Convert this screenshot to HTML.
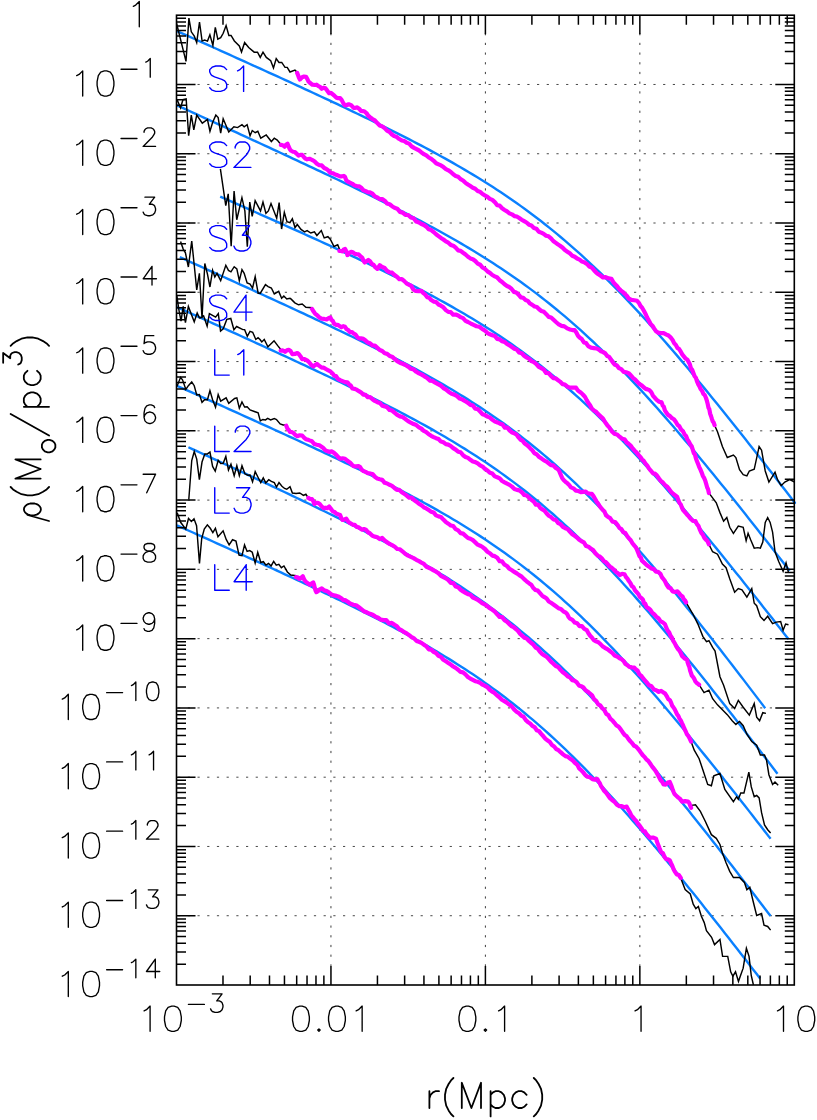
<!DOCTYPE html>
<html><head><meta charset="utf-8"><title>Density profiles</title>
<style>html,body{margin:0;padding:0;background:#fff;font-family:"Liberation Sans",sans-serif}svg{display:block}</style></head>
<body><svg width="817" height="1120" viewBox="0 0 817 1120">
<rect width="817" height="1120" fill="#fff"/>
<defs><clipPath id="c"><rect x="175.5" y="14.2" width="620.8" height="971.4"/></clipPath></defs>
<path d="M178.1 84.47H775.3M178.1 153.74H775.3M178.1 223.01H775.3M178.1 292.29H775.3M178.1 361.56H775.3M178.1 430.83H775.3M178.1 500.1H775.3M178.1 569.37H775.3M178.1 638.64H775.3M178.1 707.91H775.3M178.1 777.19H775.3M178.1 846.46H775.3M178.1 915.73H775.3" fill="none" stroke="#333" stroke-width="0.9" stroke-dasharray="2.2 7.5"/>
<path d="M330.95 33.1V966M485.4 33.1V966M639.85 33.1V966" fill="none" stroke="#333" stroke-width="0.95" stroke-dasharray="2.2 7.5"/>
<g fill="none" stroke-linejoin="round" stroke-linecap="round" clip-path="url(#c)">
<path d="M176.9 31.04L180.9 32.83L184.9 34.63L188.9 36.42L192.9 38.22L196.9 40.02L200.9 41.82L204.9 43.62L208.9 45.42L212.9 47.22L216.9 49.02L220.9 50.82L224.9 52.62L228.9 54.43L232.9 56.24L236.9 58.04L240.9 59.85L244.9 61.66L248.9 63.47L252.9 65.29L256.9 67.1L260.9 68.92L264.9 70.74L268.9 72.56L272.9 74.38L276.9 76.2L280.9 78.03L284.9 79.86L288.9 81.69L292.9 83.53L296.9 85.37L300.9 87.21L304.9 89.05L308.9 90.9L312.9 92.76L316.9 94.61L320.9 96.47L324.9 98.34L328.9 100.21L332.9 102.08L336.9 103.96L340.9 105.85L344.9 107.74L348.9 109.64L352.9 111.55L356.9 113.46L360.9 115.38L364.9 117.31L368.9 119.24L372.9 121.19L376.9 123.14L380.9 125.1L384.9 127.08L388.9 129.06L392.9 131.06L396.9 133.07L400.9 135.09L404.9 137.13L408.9 139.18L412.9 141.24L416.9 143.32L420.9 145.42L424.9 147.53L428.9 149.67L432.9 151.82L436.9 153.99L440.9 156.18L444.9 158.4L448.9 160.64L452.9 162.9L456.9 165.18L460.9 167.5L464.9 169.84L468.9 172.21L472.9 174.61L476.9 177.03L480.9 179.5L484.9 181.99L488.9 184.52L492.9 187.08L496.9 189.69L500.9 192.32L504.9 195L508.9 197.72L512.9 200.48L516.9 203.29L520.9 206.13L524.9 209.02L528.9 211.96L532.9 214.95L536.9 217.98L540.9 221.06L544.9 224.19L548.9 227.37L552.9 230.6L556.9 233.88L560.9 237.22L564.9 240.6L568.9 244.04L572.9 247.53L576.9 251.07L580.9 254.67L584.9 258.32L588.9 262.02L592.9 265.77L596.9 269.58L600.9 273.44L604.9 277.34L608.9 281.3L612.9 285.31L616.9 289.37L620.9 293.47L624.9 297.62L628.9 301.82L632.9 306.06L636.9 310.35L640.9 314.68L644.9 319.05L648.9 323.47L652.9 327.92L656.9 332.41L660.9 336.94L664.9 341.5L668.9 346.1L672.9 350.74L676.9 355.4L680.9 360.1L684.9 364.83L688.9 369.58L692.9 374.37L696.9 379.18L700.9 384.01L704.9 388.87L708.9 393.76L712.9 398.66L716.9 403.59L720.9 408.54L724.9 413.51L728.9 418.49L732.9 423.5L736.9 428.52L740.9 433.56L744.9 438.61L748.9 443.68L752.9 448.76L756.9 453.85L760.9 458.96L764.9 464.07L768.9 469.2L772.9 474.34L776.9 479.49L780.9 484.65L784.9 489.82L788.9 495L792.9 500.18L795.6 503.68M176.9 105.3L180.9 107.12L184.9 108.94L188.9 110.77L192.9 112.59L196.9 114.42L200.9 116.24L204.9 118.07L208.9 119.89L212.9 121.72L216.9 123.55L220.9 125.38L224.9 127.21L228.9 129.04L232.9 130.88L236.9 132.71L240.9 134.55L244.9 136.38L248.9 138.22L252.9 140.06L256.9 141.9L260.9 143.75L264.9 145.59L268.9 147.44L272.9 149.29L276.9 151.14L280.9 152.99L284.9 154.85L288.9 156.71L292.9 158.57L296.9 160.43L300.9 162.3L304.9 164.17L308.9 166.04L312.9 167.92L316.9 169.8L320.9 171.69L324.9 173.58L328.9 175.47L332.9 177.37L336.9 179.28L340.9 181.19L344.9 183.1L348.9 185.03L352.9 186.95L356.9 188.89L360.9 190.83L364.9 192.78L368.9 194.74L372.9 196.71L376.9 198.68L380.9 200.67L384.9 202.66L388.9 204.67L392.9 206.69L396.9 208.72L400.9 210.76L404.9 212.81L408.9 214.88L412.9 216.96L416.9 219.06L420.9 221.17L424.9 223.31L428.9 225.45L432.9 227.62L436.9 229.81L440.9 232.01L444.9 234.24L448.9 236.49L452.9 238.76L456.9 241.06L460.9 243.39L464.9 245.74L468.9 248.11L472.9 250.52L476.9 252.96L480.9 255.42L484.9 257.92L488.9 260.45L492.9 263.02L496.9 265.63L500.9 268.27L504.9 270.95L508.9 273.66L512.9 276.42L516.9 279.22L520.9 282.07L524.9 284.95L528.9 287.89L532.9 290.86L536.9 293.89L540.9 296.96L544.9 300.08L548.9 303.25L552.9 306.47L556.9 309.74L560.9 313.06L564.9 316.44L568.9 319.86L572.9 323.34L576.9 326.86L580.9 330.44L584.9 334.08L588.9 337.76L592.9 341.5L596.9 345.28L600.9 349.12L604.9 353.01L608.9 356.95L612.9 360.94L616.9 364.98L620.9 369.06L624.9 373.19L628.9 377.37L632.9 381.59L636.9 385.86L640.9 390.17L644.9 394.52L648.9 398.92L652.9 403.35L656.9 407.82L660.9 412.33L664.9 416.87L668.9 421.45L672.9 426.07L676.9 430.71L680.9 435.39L684.9 440.1L688.9 444.84L692.9 449.6L696.9 454.39L700.9 459.21L704.9 464.05L708.9 468.92L712.9 473.81L716.9 478.72L720.9 483.65L724.9 488.6L728.9 493.57L732.9 498.55L736.9 503.56L740.9 508.58L744.9 513.61L748.9 518.66L752.9 523.73L756.9 528.81L760.9 533.9L764.9 539L768.9 544.11L772.9 549.24L776.9 554.37L780.9 559.51L784.9 564.67L788.9 569.83L789.7 570.86M220.2 196.6L224.2 198.36L228.2 200.12L232.2 201.89L236.2 203.65L240.2 205.42L244.2 207.19L248.2 208.96L252.2 210.74L256.2 212.51L260.2 214.29L264.2 216.07L268.2 217.85L272.2 219.63L276.2 221.42L280.2 223.2L284.2 224.99L288.2 226.79L292.2 228.59L296.2 230.39L300.2 232.19L304.2 234L308.2 235.81L312.2 237.62L316.2 239.44L320.2 241.27L324.2 243.1L328.2 244.93L332.2 246.77L336.2 248.62L340.2 250.47L344.2 252.33L348.2 254.19L352.2 256.07L356.2 257.95L360.2 259.84L364.2 261.73L368.2 263.64L372.2 265.56L376.2 267.48L380.2 269.42L384.2 271.36L388.2 273.32L392.2 275.3L396.2 277.28L400.2 279.28L404.2 281.29L408.2 283.32L412.2 285.37L416.2 287.43L420.2 289.51L424.2 291.61L428.2 293.72L432.2 295.86L436.2 298.02L440.2 300.2L444.2 302.41L448.2 304.64L452.2 306.89L456.2 309.17L460.2 311.48L464.2 313.82L468.2 316.19L472.2 318.59L476.2 321.02L480.2 323.49L484.2 325.99L488.2 328.52L492.2 331.1L496.2 333.71L500.2 336.36L504.2 339.05L508.2 341.79L512.2 344.57L516.2 347.39L520.2 350.26L524.2 353.17L528.2 356.13L532.2 359.14L536.2 362.19L540.2 365.3L544.2 368.46L548.2 371.66L552.2 374.92L556.2 378.23L560.2 381.59L564.2 385.01L568.2 388.47L572.2 391.99L576.2 395.56L580.2 399.19L584.2 402.86L588.2 406.59L592.2 410.37L596.2 414.2L600.2 418.07L604.2 422L608.2 425.98L612.2 430.01L616.2 434.08L620.2 438.2L624.2 442.37L628.2 446.58L632.2 450.83L636.2 455.13L640.2 459.46L644.2 463.84L648.2 468.26L652.2 472.71L656.2 477.2L660.2 481.72L664.2 486.28L668.2 490.87L672.2 495.5L676.2 500.15L680.2 504.83L684.2 509.55L688.2 514.28L692.2 519.05L696.2 523.84L700.2 528.65L704.2 533.49L708.2 538.34L712.2 543.22L716.2 548.12L720.2 553.04L724.2 557.97L728.2 562.92L732.2 567.89L736.2 572.88L740.2 577.87L744.2 582.89L748.2 587.91L752.2 592.95L756.2 598L760.2 603.06L764.2 608.14L768.2 613.22L772.2 618.31L776.2 623.41L780.2 628.53L784.2 633.64L788.2 638.77L788.5 639.16M179.8 257.16L183.8 258.96L187.8 260.76L191.8 262.57L195.8 264.37L199.8 266.18L203.8 267.98L207.8 269.79L211.8 271.6L215.8 273.41L219.8 275.22L223.8 277.03L227.8 278.84L231.8 280.66L235.8 282.47L239.8 284.29L243.8 286.11L247.8 287.93L251.8 289.76L255.8 291.58L259.8 293.41L263.8 295.24L267.8 297.07L271.8 298.91L275.8 300.75L279.8 302.59L283.8 304.44L287.8 306.28L291.8 308.14L295.8 309.99L299.8 311.85L303.8 313.71L307.8 315.58L311.8 317.46L315.8 319.33L319.8 321.22L323.8 323.11L327.8 325L331.8 326.9L335.8 328.81L339.8 330.73L343.8 332.65L347.8 334.58L351.8 336.52L355.8 338.47L359.8 340.43L363.8 342.39L367.8 344.37L371.8 346.36L375.8 348.36L379.8 350.37L383.8 352.4L387.8 354.44L391.8 356.49L395.8 358.56L399.8 360.64L403.8 362.74L407.8 364.86L411.8 366.99L415.8 369.15L419.8 371.32L423.8 373.52L427.8 375.74L431.8 377.98L435.8 380.25L439.8 382.54L443.8 384.86L447.8 387.2L451.8 389.57L455.8 391.98L459.8 394.41L463.8 396.88L467.8 399.38L471.8 401.92L475.8 404.49L479.8 407.1L483.8 409.74L487.8 412.43L491.8 415.16L495.8 417.93L499.8 420.74L503.8 423.6L507.8 426.5L511.8 429.46L515.8 432.45L519.8 435.5L523.8 438.6L527.8 441.75L531.8 444.94L535.8 448.2L539.8 451.5L543.8 454.86L547.8 458.27L551.8 461.73L555.8 465.25L559.8 468.82L563.8 472.45L567.8 476.13L571.8 479.87L575.8 483.66L579.8 487.5L583.8 491.4L587.8 495.35L591.8 499.35L595.8 503.41L599.8 507.51L603.8 511.67L607.8 515.87L611.8 520.13L615.8 524.43L619.8 528.78L623.8 533.17L627.8 537.61L631.8 542.09L635.8 546.61L639.8 551.17L643.8 555.77L647.8 560.41L651.8 565.09L655.8 569.8L659.8 574.55L663.8 579.33L667.8 584.14L671.8 588.98L675.8 593.85L679.8 598.75L683.8 603.68L687.8 608.63L691.8 613.61L695.8 618.61L699.8 623.64L703.8 628.68L707.8 633.75L711.8 638.84L715.8 643.94L719.8 649.07L723.8 654.21L727.8 659.37L731.8 664.54L735.8 669.73L739.8 674.93L743.8 680.14L747.8 685.37L751.8 690.61L755.8 695.86L759.8 701.12L763.8 706.39L765.2 708.24M176.9 307.08L180.9 308.88L184.9 310.68L188.9 312.49L192.9 314.29L196.9 316.1L200.9 317.9L204.9 319.71L208.9 321.51L212.9 323.32L216.9 325.13L220.9 326.94L224.9 328.76L228.9 330.57L232.9 332.38L236.9 334.2L240.9 336.02L244.9 337.84L248.9 339.66L252.9 341.49L256.9 343.31L260.9 345.14L264.9 346.98L268.9 348.81L272.9 350.65L276.9 352.49L280.9 354.33L284.9 356.18L288.9 358.03L292.9 359.88L296.9 361.74L300.9 363.6L304.9 365.46L308.9 367.33L312.9 369.21L316.9 371.09L320.9 372.97L324.9 374.87L328.9 376.76L332.9 378.67L336.9 380.58L340.9 382.5L344.9 384.42L348.9 386.36L352.9 388.3L356.9 390.25L360.9 392.22L364.9 394.19L368.9 396.17L372.9 398.16L376.9 400.17L380.9 402.19L384.9 404.22L388.9 406.26L392.9 408.32L396.9 410.4L400.9 412.49L404.9 414.59L408.9 416.72L412.9 418.86L416.9 421.03L420.9 423.21L424.9 425.42L428.9 427.64L432.9 429.89L436.9 432.17L440.9 434.47L444.9 436.8L448.9 439.16L452.9 441.54L456.9 443.96L460.9 446.41L464.9 448.88L468.9 451.4L472.9 453.95L476.9 456.53L480.9 459.16L484.9 461.82L488.9 464.52L492.9 467.26L496.9 470.05L500.9 472.87L504.9 475.75L508.9 478.67L512.9 481.63L516.9 484.64L520.9 487.71L524.9 490.82L528.9 493.98L532.9 497.19L536.9 500.45L540.9 503.77L544.9 507.14L548.9 510.56L552.9 514.03L556.9 517.56L560.9 521.14L564.9 524.78L568.9 528.46L572.9 532.21L576.9 536L580.9 539.85L584.9 543.75L588.9 547.7L592.9 551.7L596.9 555.75L600.9 559.85L604.9 564L608.9 568.2L612.9 572.44L616.9 576.73L620.9 581.06L624.9 585.44L628.9 589.86L632.9 594.32L636.9 598.83L640.9 603.37L644.9 607.94L648.9 612.56L652.9 617.21L656.9 621.89L660.9 626.61L664.9 631.36L668.9 636.13L672.9 640.94L676.9 645.78L680.9 650.64L684.9 655.53L688.9 660.44L692.9 665.38L696.9 670.34L700.9 675.32L704.9 680.32L708.9 685.34L712.9 690.38L716.9 695.44L720.9 700.51L724.9 705.6L728.9 710.71L732.9 715.83L736.9 720.96L740.9 726.11L744.9 731.27L748.9 736.44L752.9 741.62L756.9 746.81L760.9 752.02L764.9 757.23L768.9 762.45L772.9 767.69L776.9 772.92L777.5 773.71M176.9 385.75L180.9 387.54L184.9 389.33L188.9 391.12L192.9 392.91L196.9 394.7L200.9 396.49L204.9 398.29L208.9 400.08L212.9 401.88L216.9 403.68L220.9 405.47L224.9 407.27L228.9 409.08L232.9 410.88L236.9 412.68L240.9 414.49L244.9 416.3L248.9 418.11L252.9 419.92L256.9 421.73L260.9 423.55L264.9 425.37L268.9 427.19L272.9 429.01L276.9 430.84L280.9 432.67L284.9 434.5L288.9 436.34L292.9 438.18L296.9 440.02L300.9 441.87L304.9 443.72L308.9 445.58L312.9 447.44L316.9 449.31L320.9 451.18L324.9 453.06L328.9 454.94L332.9 456.84L336.9 458.73L340.9 460.64L344.9 462.55L348.9 464.47L352.9 466.4L356.9 468.33L360.9 470.28L364.9 472.24L368.9 474.2L372.9 476.18L376.9 478.17L380.9 480.17L384.9 482.19L388.9 484.22L392.9 486.26L396.9 488.32L400.9 490.39L404.9 492.48L408.9 494.59L412.9 496.71L416.9 498.86L420.9 501.02L424.9 503.21L428.9 505.42L432.9 507.65L436.9 509.9L440.9 512.18L444.9 514.49L448.9 516.83L452.9 519.19L456.9 521.58L460.9 524.01L464.9 526.46L468.9 528.95L472.9 531.48L476.9 534.04L480.9 536.63L484.9 539.27L488.9 541.94L492.9 544.66L496.9 547.41L500.9 550.21L504.9 553.06L508.9 555.95L512.9 558.88L516.9 561.86L520.9 564.89L524.9 567.97L528.9 571.1L532.9 574.27L536.9 577.5L540.9 580.78L544.9 584.11L548.9 587.5L552.9 590.93L556.9 594.42L560.9 597.96L564.9 601.56L568.9 605.21L572.9 608.91L576.9 612.66L580.9 616.46L584.9 620.32L588.9 624.22L592.9 628.18L596.9 632.19L600.9 636.24L604.9 640.34L608.9 644.49L612.9 648.69L616.9 652.93L620.9 657.22L624.9 661.55L628.9 665.92L632.9 670.33L636.9 674.78L640.9 679.27L644.9 683.8L648.9 688.36L652.9 692.96L656.9 697.59L660.9 702.26L664.9 706.95L668.9 711.68L672.9 716.43L676.9 721.21L680.9 726.02L684.9 730.86L688.9 735.71L692.9 740.6L696.9 745.5L700.9 750.43L704.9 755.37L708.9 760.34L712.9 765.32L716.9 770.32L720.9 775.34L724.9 780.38L728.9 785.43L732.9 790.49L736.9 795.57L740.9 800.66L744.9 805.76L748.9 810.88L752.9 816L756.9 821.14L760.9 826.29L764.9 831.44L768.9 836.61L770.6 838.81M188.4 447.23L192.4 449.07L196.4 450.92L200.4 452.77L204.4 454.61L208.4 456.46L212.4 458.32L216.4 460.17L220.4 462.02L224.4 463.88L228.4 465.74L232.4 467.59L236.4 469.46L240.4 471.32L244.4 473.19L248.4 475.05L252.4 476.93L256.4 478.8L260.4 480.68L264.4 482.56L268.4 484.44L272.4 486.32L276.4 488.21L280.4 490.11L284.4 492.01L288.4 493.91L292.4 495.81L296.4 497.73L300.4 499.64L304.4 501.56L308.4 503.49L312.4 505.43L316.4 507.37L320.4 509.31L324.4 511.27L328.4 513.23L332.4 515.2L336.4 517.18L340.4 519.16L344.4 521.16L348.4 523.16L352.4 525.18L356.4 527.21L360.4 529.25L364.4 531.3L368.4 533.36L372.4 535.44L376.4 537.53L380.4 539.64L384.4 541.76L388.4 543.9L392.4 546.06L396.4 548.24L400.4 550.43L404.4 552.65L408.4 554.88L412.4 557.14L416.4 559.42L420.4 561.73L424.4 564.06L428.4 566.42L432.4 568.8L436.4 571.21L440.4 573.66L444.4 576.13L448.4 578.64L452.4 581.18L456.4 583.75L460.4 586.36L464.4 589.01L468.4 591.69L472.4 594.42L476.4 597.18L480.4 599.99L484.4 602.84L488.4 605.73L492.4 608.67L496.4 611.65L500.4 614.68L504.4 617.76L508.4 620.89L512.4 624.06L516.4 627.29L520.4 630.57L524.4 633.9L528.4 637.28L532.4 640.71L536.4 644.19L540.4 647.73L544.4 651.32L548.4 654.96L552.4 658.66L556.4 662.41L560.4 666.21L564.4 670.06L568.4 673.96L572.4 677.91L576.4 681.92L580.4 685.97L584.4 690.07L588.4 694.22L592.4 698.42L596.4 702.66L600.4 706.95L604.4 711.28L608.4 715.66L612.4 720.07L616.4 724.53L620.4 729.03L624.4 733.56L628.4 738.14L632.4 742.74L636.4 747.39L640.4 752.06L644.4 756.77L648.4 761.51L652.4 766.28L656.4 771.08L660.4 775.9L664.4 780.76L668.4 785.63L672.4 790.54L676.4 795.46L680.4 800.41L684.4 805.38L688.4 810.37L692.4 815.38L696.4 820.4L700.4 825.45L704.4 830.51L708.4 835.58L712.4 840.68L716.4 845.78L720.4 850.9L724.4 856.04L728.4 861.18L732.4 866.34L736.4 871.51L740.4 876.69L744.4 881.88L748.4 887.07L752.4 892.28L756.4 897.5L760.4 902.72L764.4 907.95L768.4 913.19L770.6 916.07M176.9 525.35L180.9 527.15L184.9 528.94L188.9 530.73L192.9 532.53L196.9 534.32L200.9 536.12L204.9 537.91L208.9 539.71L212.9 541.51L216.9 543.32L220.9 545.12L224.9 546.93L228.9 548.73L232.9 550.54L236.9 552.35L240.9 554.17L244.9 555.98L248.9 557.8L252.9 559.62L256.9 561.44L260.9 563.27L264.9 565.1L268.9 566.93L272.9 568.77L276.9 570.61L280.9 572.45L284.9 574.3L288.9 576.15L292.9 578.01L296.9 579.87L300.9 581.73L304.9 583.6L308.9 585.48L312.9 587.36L316.9 589.25L320.9 591.15L324.9 593.05L328.9 594.97L332.9 596.88L336.9 598.81L340.9 600.75L344.9 602.69L348.9 604.65L352.9 606.62L356.9 608.59L360.9 610.58L364.9 612.58L368.9 614.6L372.9 616.63L376.9 618.67L380.9 620.73L384.9 622.8L388.9 624.89L392.9 627L396.9 629.12L400.9 631.27L404.9 633.43L408.9 635.62L412.9 637.83L416.9 640.06L420.9 642.31L424.9 644.59L428.9 646.9L432.9 649.24L436.9 651.6L440.9 653.99L444.9 656.42L448.9 658.87L452.9 661.36L456.9 663.89L460.9 666.45L464.9 669.05L468.9 671.68L472.9 674.36L476.9 677.07L480.9 679.83L484.9 682.63L488.9 685.48L492.9 688.37L496.9 691.3L500.9 694.28L504.9 697.31L508.9 700.39L512.9 703.52L516.9 706.7L520.9 709.93L524.9 713.21L528.9 716.55L532.9 719.93L536.9 723.37L540.9 726.86L544.9 730.4L548.9 734L552.9 737.65L556.9 741.35L560.9 745.1L564.9 748.91L568.9 752.77L572.9 756.68L576.9 760.64L580.9 764.64L584.9 768.7L588.9 772.81L592.9 776.96L596.9 781.16L600.9 785.4L604.9 789.69L608.9 794.02L612.9 798.4L616.9 802.81L620.9 807.26L624.9 811.76L628.9 816.29L632.9 820.85L636.9 825.45L640.9 830.09L644.9 834.75L648.9 839.45L652.9 844.18L656.9 848.94L660.9 853.72L664.9 858.53L668.9 863.37L672.9 868.23L676.9 873.11L680.9 878.02L684.9 882.95L688.9 887.9L692.9 892.87L696.9 897.85L700.9 902.86L704.9 907.88L708.9 912.91L712.9 917.97L716.9 923.03L720.9 928.11L724.9 933.21L728.9 938.31L732.9 943.43L736.9 948.56L740.9 953.7L744.9 958.85L748.9 964.01L752.9 969.17L756.9 974.35L760.1 978.5" stroke="#0a80ff" stroke-width="2.4" stroke-linecap="butt"/>
<path d="M176.6 23.5L186 61.4L188.9 18.1L191.3 31.8L194.3 36.2L196.7 42.6L199.5 22L202.1 41.1L204.6 40.1L207.5 41.1L209.9 34.8L212.9 45.5L215.3 27.4L217.8 39.2L220.7 37.7L223.2 33.3L226.1 25.51L228.86 35.42L231.06 35.42L234.36 40.93L239.32 45.89L241.52 51.95L244.61 42.58L248.68 47.54L254.19 52.17L257.5 52.17L260.25 57.45L263 52.17L266.31 57.45L270.71 60.76L273.47 67.92L276.22 58.55L278.98 62.41L281.73 62.41L285.04 67.37L287.24 67.37L289.99 71.99L294.95 70.12L296.6 71.77L297.15 72.88M714.6 425.2L714.57 425.21L717.5 431.82L722.4 446.51L727.29 457.53L733.41 455.08L735.86 457.53L739.53 469.77L743.21 474.66L746.88 475.89L749.33 470.99L754.22 469.28L759.12 446.51L761.57 450.18L765.24 470.99L768.91 482.01L775.03 472.22L777.48 479.56L781.15 485.68L784.82 482.01L789.72 479.56L794.61 482.01M176.9 99.39L180.58 107.77L182.93 99.69L186.16 98.95L188.65 135.68L191.3 115.11L193.8 129.8L196.73 115.11L202.31 123.19L207.46 119.52L209.95 131.27L212.6 122.46L215.83 115.11L218.18 117.61L220.68 133.18L223.17 118.78L228.75 132L233.9 126.86L237.57 127.6L241.97 124.66L244.18 126.86L247.12 124.66L250.05 135.68L252.26 130.53L255.19 132.74L257.84 131.27L260.78 138.17L266.21 134.94L271.35 141.55L274.29 138.17L277.23 140.08L280.9 144.49L280.9 144.93M708.9 493L708.94 493.02L712.61 497.92L716.28 502.82L719.95 512.61L723.62 521.18L726.81 517.5L729.74 527.29L733.41 533.41L738.31 526.07L743.21 527.29L746.14 540.76L748.1 533.41L750.55 539.53L754.22 548.1L757.89 547.61L760.34 548.1L762.79 541.98L765.24 522.4L767.69 517.5L770.13 522.4L772.58 532.19L775.03 551.77L778.7 561.57L783.11 571.36L786.05 562.79L788.49 572.58M220.39 168.81L225.77 205.53L228.22 193.78L231.16 246.17L234.09 191.14L236.74 219.73L241.93 197.7L244.87 210.92L247.31 246.66L249.76 202.11L252.21 216.3L255.15 200.64L260.53 210.92L262.98 202.11L265.92 213.37L268.37 210.92L271.01 203.57L276.69 218.26L279.14 202.59L281.59 229.03L284.33 212.39L286.97 221.69L289.91 222.67L292.36 218.75L295 227.56L297.3 224.5L301 229.4L304.6 231.8L307.1 230.6L310.8 233L314.4 231.8L316.9 235.5L321.3 230.6L324.2 237.9L327.9 236.7L330.3 239.2L334 246.5L337.7 244.8L339.4 249L339.4 250.92M708.9 544.4L708.94 544.43L712.61 551.77L717.5 554.22L722.4 564.01L726.07 567.69L729.74 578.7L734.64 592.24L738.31 588.57L741.98 589.79L746.88 597.14L751.77 588.57L754.22 603.26L756.67 605.7L760.34 616.72L764.01 620.39L767.69 616.23L772.58 623.57L776.25 622.11L780.66 621.62L783.11 630.18L785.56 624.06L788.49 624.8M180.58 241.46L183.22 249.1L185.42 252.77L188.36 267.02L191.74 241.02L194.24 265.25L196.73 289.93L199.38 273.33L202.02 318.13L204.81 263.49L207.46 274.07L209.95 286.99L212.6 270.39L214.8 277L217 273.33L220.68 280.68L225.82 265.25L228.46 270.39L230.96 271.86L234.19 266.72L236.83 268.92L239.33 280.68L241.97 269.66L244.18 273.33L247.12 282.88L250.05 284.05L252.55 288.02L255.19 276.71L258.13 293.16L260.33 293.16L265.48 284.64L268.12 286.55L271.35 288.02L274.29 293.9L278.7 291.4L281.63 298.3L283.84 296.1L286.77 299.04L290.01 298.3L291.18 299.14L294.85 302.82L298.52 304.77L302.19 304.04L305.86 307.22L311.98 307.71L311.98 308.94M686.05 602.37L693.02 614.27L697.92 624.06L702.82 636.3L706.49 641.69L708.94 640.71L712.61 647.32L715.06 650.99L719.95 676.7L723.62 685.26L729.74 703.62L734.64 708.52L738.31 700.44L743.21 707.29L749.33 715.13L754.22 703.62L756.67 717.09L759.61 720.76L762.79 712.68L765.97 713.41M176.9 296.1L178.81 309.32L181.02 321.07L183.22 306.38L185.42 322.54L188.36 306.38L194.24 321.8L197.17 312.99L199.38 317.84L200 318.04L203.57 315.8L207.14 326.07L209.38 313.57L215.62 317.14L218.3 313.57L220.54 330.98L223.21 328.75L226.79 319.38L230.8 318.48L233.93 329.64L236.61 326.52L242.86 329.64L244.64 329.64L247.32 336.34L250 331.43L252.68 332.32L255.8 339.46L258.04 337.68L260 339.46L261.8 341.98L264.25 339.53L267.92 346.88L271.59 343.21L274.04 340.76L277.71 345.65L280.65 349.33L280.65 350.55M699.1 684.8L699.14 684.77L704.04 692.61L708.94 690.16L712.61 698.73L717.5 704.85L722.4 709.74L727.29 714.64L732.19 720.76L735.86 724.43L739.53 721.49L743.21 725.65L746.88 734.22L751.77 741.57L756.67 745.24L760.34 755.03L764.5 755.03L766.5 760L768.9 774.7L772.6 784.5L775 782L778.2 785.2M176.9 386.44L180.58 377.33L182.49 379.83L185.86 389.38L188.36 385.71L191.74 382.03L194.24 385.71L196.73 394.96L199.38 394.52L202.02 402.3L204.52 399.66L207.46 399.66L209.95 390.55L212.6 399.66L215.53 407.3L218.18 394.52L220.68 401.13L226.11 397.9L228.75 403.33L234.63 398.48L236.83 397.9L239.33 408.18L241.97 401.86L244.62 407L247.12 406.71L250.05 409.94L258.13 412.88L260.33 420.96L262.83 419.49L265.48 419.93L267.68 418.46L270.62 419.93L274.29 418.46L276.49 419.49L280.16 423.9L283.1 424.92L286.04 424.92L286.28 425.7M691.1 741.6L691.06 741.57L694.25 750.13L699.14 758.7L702.82 769.79L707.71 784.48L711.38 785.7L713.83 775.91L719.95 773.46L724.85 789.38L733.41 801.62L736.6 796.72L738.31 799.17L740.76 793.05L743.94 793.05L748.84 772.24L751.29 786.93L754.22 796.72L756.67 795.5L759.12 797.94L761.57 812.63L764.5 824.87L767.69 829.77L770.62 832.95M188.8 499.49L191.74 460.56L194.24 451.46L196.73 459.1L199.38 479.66L202.02 462.03L204.81 453.95L207.46 453.95L209.95 452.04L212.6 466.44L215.24 471.14L218.18 460.27L220.68 463.5L223.17 463.21L225.82 456.45L228.46 470.11L230.96 464.24L234.19 475.69L236.83 465.71L239.33 475.69L241.97 465.71L244.91 473.78L247.85 475.25L250.05 474.96L252.55 481.86L255.19 471.58L258.13 477.46L260.78 482.6L263.27 477.9L265.77 482.89L268.71 479.66L271.35 481.42L274.29 482.6L276.49 487L278.99 482.6L281.93 486.27L284.57 488.47L286.77 489.21L290.01 486.71L292.4 493.02L296.07 493.51L299.74 493.02L303.41 495.47L305.86 494.25L308.31 497.92L308.31 497.92M691.1 807.7L691.8 805.29L695.47 804.8L700.37 811.41L705.26 821.2L711.38 834.66L716.28 838.34L719.95 844.46L722.4 853.02L726.07 862.82L729.74 871.38L733.41 877.5L739.53 877.5L744.43 882.4L746.88 889.74L749.82 887.29L753 900.76L756.67 915.45L761.57 913.49L764.01 925.24L767.69 926.46L770.62 930.13M177.2 512.85L180.62 522.28L185.76 529.13L188.51 518.51L191.42 521.42L193.99 518.85L196.56 525.7L199.47 563.4L201.7 538.55L204.27 529.13L207.35 524.85L210.27 528.27L212.84 532.56L215.41 528.27L217.98 536.84L223.12 530.84L226.2 539.41L229.12 544.89L232.54 539.75L235.97 541.12L239.05 555.17L241.97 555.69L244.54 544.89L247.11 551.41L249.68 550.55L252.25 552.26L255.16 563.06L257.73 552.26L260.82 562.54L263.39 561.69L265.96 565.11L268.53 563.4L271.1 565.97L273.67 561.34L276.24 565.11L278.81 564.26L281.38 567.68L283.95 565.97L287.37 571.97L290.8 575.05L295.94 575.74L295.94 577.11M680.8 878L681.47 880L685.14 889.55L690.28 893.95L693.22 904.24L695.86 908.64L698.36 906.44L701.3 915.99L704.24 922.6L706.44 930.68L711.58 937.29L714.52 944.63L719.95 939.49L722.6 956.38L727.74 956.38L730.68 971.8L732.88 976.21L735.52 971.8L738.46 981.35L743.16 968.13L746.39 948.3L749.04 956.38L751.24 975.48L753.44 985.02" stroke="#000" stroke-width="1.45" stroke-linejoin="miter" stroke-miterlimit="5" stroke-linecap="butt"/>
<path d="M297.15 72.88L298.07 75.18L298.99 77.7L299.91 79.48L302.11 77.28L304.03 76.59L305.96 76.73L307.25 78.77L308.53 81.56L309.82 82.79L312.41 84.68L315 84.99L316.55 84.69L318.1 85.89L319.94 86.77L321.77 88.82L323.61 87.68L325.45 88.34L327.28 90.67L329.12 93.23L330.96 92.9L332.79 94.46L334.62 95.96L336.46 97.64L338.29 98.18L340.13 98.13L341.76 100.13L343.4 103.38L345.03 105.47L346.87 105.04L348.7 104.25L351.15 105.13L353.6 107.92L355.44 107.79L357.27 107.43L359.11 108.66L360.94 110.86L362.77 111.06L364.61 111.59L366.41 113.03L368.2 115.73L370 117.22L372.43 119.01L374.86 120.36L377.29 123.04L379.71 125.43L382.14 126.39L384.57 128.13L387 130.6L389.46 131.9L391.93 134.52L394.39 136.13L396.85 137.04L399.31 139.03L401.77 140.44L404.24 141.03L406.7 142.8L409.16 143.62L411.61 146.37L414.07 147.82L416.52 149.06L418.98 150.42L421.43 152.41L423.89 154.17L426.34 155.41L428.8 157.5L431.25 158.76L433.69 160.76L436.14 163.24L438.58 164.36L441.03 165.43L443.47 167.09L445.92 169.12L448.36 170.29L450.81 171.96L453.25 174.26L455.7 175.9L458.14 176.71L460.58 179.13L463.02 180.52L465.47 182.85L467.91 184.56L470.35 186.08L472.79 187.71L475.23 188.71L477.68 190.94L480.12 191.91L482.56 194.01L485 195.5L487.44 196.92L489.89 198.92L492.33 199.92L494.78 202.05L497.22 205.28L499.67 205.56L502.11 208.25L504.56 209.93L507 211.4L509.44 213.34L511.89 214.33L514.33 216.06L516.78 216.49L519.22 217.99L521.67 219.73L524.11 221.13L526.56 222.51L529 224.8L531.44 225.56L533.89 227.91L536.33 228.68L538.78 231.7L541.22 232.66L543.67 233.88L546.11 235.71L548.56 236.33L551 238.3L553.25 241L555.5 242.68L557.75 244.3L560 245.7L562.45 247.49L564.9 250.05L567.35 251.69L569.8 253.35L572.25 255.69L574.7 256.7L577.14 258.54L579.59 259.57L582.03 261.52L584.47 262.38L586.91 263.94L589.36 266.58L591.8 267.7L594 270.23L596.2 272.56L598.4 274.28L600.6 275.63L602.8 277.5L605.67 277.11L608.53 278.34L611.4 278.8L613.25 282.08L615.1 284.23L616.95 286.05L618.8 288.5L620.74 290.37L622.68 291.86L624.62 293.73L626.56 295.49L628.5 298.3L631.37 299.92L634.23 300.25L637.1 300.8L638.82 302.77L640.54 305.99L642.26 307.94L643.98 310.94L645.7 314.2L646.93 317.11L648.15 319.4L649.38 321.51L650.6 324L652.42 325.7L654.25 328.6L656.08 331.36L657.9 332.6L660.77 333.14L663.63 333.07L666.5 334.6L668.53 335.52L670.57 337.37L672.6 340L674.23 343.35L675.87 344.95L677.5 347.97L679.13 349.07L680.77 351.69L682.4 354.6L684.03 356.62L685.67 358.66L687.3 359.5L688.52 361.88L689.74 364.03L690.96 368.33L692.18 369.88L693.4 373L694.62 376.18L695.84 377.72L697.06 381.49L698.28 384.48L699.5 386.5L700.8 389.25L702.1 390.82L703.4 393.85L704.7 394.98L706 398L706.83 400.63L707.67 403.84L708.5 407.75L709.33 409.31L710.17 413.76L711 416L711.9 418.9L712.8 421.54L713.7 422.64L714.6 425.2M280.9 144.93L282.74 145.22L284.57 146.69L286.04 144.7L287.51 143.75L288.73 146.74L289.96 149.35L291.18 150.76L293.01 151.77L294.85 151.98L296.69 153.78L298.52 155.65L300.36 154.86L302.19 154.92L303.82 157.06L305.46 158.6L307.09 159.33L309.53 158.76L311.98 159.82L314.43 161.21L316.88 163.73L319.32 165.25L321.77 165.45L324.22 167.98L326.67 169.12L328.5 170.58L330.34 172.79L332.79 173.2L335.24 174.5L337.69 175.34L340.13 176.46L341.97 176.29L343.81 175.97L345.03 176.96L346.26 180.24L347.48 181.36L349.93 182.65L352.37 183.81L354.82 185.58L357.27 186.25L359.11 186.33L360.94 187.48L363.39 190.25L365.84 191.15L367.92 192.26L370 192.37L372.45 193.59L374.9 196.33L377.35 197.37L379.8 199.18L382.25 199.13L384.7 200.68L387.15 203.59L389.6 204.24L392.05 206.2L394.5 207.7L397.22 208.65L399.94 211.92L402.67 212.61L405.39 214.89L408.11 215.01L410.83 217.46L413.56 218.26L416.28 221.54L419 222.4L421.44 224L423.88 224.96L426.32 226.68L428.76 229.32L431.2 230.1L433.64 232.03L436.08 234.24L438.52 236.08L440.96 237.96L443.4 239.5L445.86 241.46L448.32 242.69L450.78 244.9L453.24 245.69L455.7 247.65L458.16 250.42L460.62 250.85L463.08 252.71L465.54 254.47L468 256.7L470.43 258.4L472.86 259.19L475.29 260.99L477.71 263.59L480.14 264.74L482.57 267.52L485 268.9L487.44 271.39L489.89 272.86L492.33 274.99L494.78 276.28L497.22 277.49L499.67 280.18L502.11 281.94L504.56 284.29L507 286L509.31 287.02L511.62 288.96L513.94 291.88L516.25 292.53L518.56 294.57L520.88 297.37L523.19 297.8L525.5 300L527.77 300.86L530.04 303.55L532.31 304.85L534.59 306.51L536.86 306.94L539.13 309.26L541.4 311L543.83 311.84L546.27 314.16L548.7 316.91L551.13 317.46L553.57 319.76L556 322L558.8 324.46L561.6 325.9L564.4 326.4L567.2 328.39L570 329.4L572.35 330.07L574.7 330.2L576.33 332.56L577.97 335.78L579.6 337.5L581.75 339L583.9 342.46L586.05 343.03L588.2 346.1L591.03 347.63L593.87 348.05L596.7 348.5L598.85 349.62L601 351.29L603.15 352.1L605.3 353.4L607.23 356.06L609.16 356.83L611.09 359.72L613.01 362.54L614.94 364.76L616.87 365.44L618.8 368.1L621.24 369.08L623.68 371.87L626.12 372.23L628.56 373.13L631 375.5L633.03 377.96L635.07 379.4L637.1 381.6L639.25 383.9L641.4 385.2L643.55 387.08L645.7 388.9L647.55 389.34L649.4 390.1L651.23 392.13L653.05 395.8L654.88 397.79L656.7 399.9L659.15 401.73L661.6 402.4L662.73 405.64L663.85 406.8L664.98 410.59L666.1 412.2L668.06 414.89L670.02 416.13L671.98 418.22L673.94 419.27L675.9 422L677.62 424.98L679.34 426.27L681.06 429.45L682.78 431.09L684.5 434.3L685.96 435.89L687.42 439.4L688.88 441.6L690.34 444.41L691.8 446.5L692.82 449.93L693.83 453.17L694.85 454.22L695.87 458.16L696.88 460.9L697.9 463.6L699.13 466.77L700.37 469.42L701.6 472.31L702.83 475.8L704.07 477.84L705.3 480.8L706.2 483.92L707.1 487.28L708 489.13L708.9 493M339.4 250.92L340.99 251.03L342.58 251.41L343.8 249.39L345.03 248.96L345.85 250.28L346.66 252.04L347.48 255.08L349.31 252.91L351.15 251.9L352.99 252.31L354.82 253.86L356.65 254.14L358.49 254.35L360.33 256.08L362.17 257.53L363.39 260.62L364.61 262.42L366.45 261.17L368.29 259.98L370 261.2L371.82 263.91L373.65 264.84L375.48 267.46L377.3 268.9L378.55 267.16L379.8 265.2L382.25 267.08L384.7 268.01L387.15 270.98L389.6 272.27L392.05 272.66L394.5 275L396.95 276.71L399.4 279.26L401.85 279L404.3 281.14L406.75 283.65L409.2 284.8L411.23 285.91L413.27 289.36L415.3 290.9L418.35 291.05L421.4 290.9L423.36 293.18L425.32 294.64L427.28 297.24L429.24 297.87L431.2 300L433.64 301.61L436.08 302.02L438.52 304.49L440.96 305.68L443.4 307.3L445.85 310.12L448.3 311.89L450.75 312.13L453.2 314.7L455.67 314.58L458.13 315.54L460.6 317.1L463.07 318.12L465.53 320.82L468 322L470.83 323.52L473.67 324.94L476.5 326.23L479.33 326.75L482.17 328.95L485 330.6L487.44 333.09L489.89 334.22L492.33 335.21L494.78 335.95L497.22 338.89L499.67 339.38L502.11 341.26L504.56 341.92L507 344L509.44 345.3L511.89 346.98L514.33 348.72L516.78 349.62L519.22 352.54L521.67 353.21L524.11 355.72L526.56 357.39L529 358.8L531.44 361.1L533.89 362.18L536.33 364.08L538.78 366.91L541.22 368.08L543.67 369.5L546.11 372.91L548.56 373.03L551 375.9L553.25 378.1L555.5 378.33L557.75 379.94L560 381.6L562.45 384.08L564.9 384.52L567.35 386.61L569.8 387.7L572.9 387.52L576 387.7L577.83 390.35L579.65 391.79L581.47 393.14L583.3 395L585 396.87L586.7 400.13L588.4 403.08L590.1 405.37L591.8 408.5L594 410.53L596.2 411.84L598.4 414.37L600.6 416.4L602.8 418.3L604.37 420.9L605.93 423.29L607.5 425.51L609.07 427.15L610.63 429.46L612.2 431.8L614.66 434.03L617.12 434.49L619.58 436.72L622.04 438.71L624.5 439.2L626.53 442.28L628.57 443.77L630.6 445.51L632.63 448.38L634.67 450.74L636.7 452.6L638.46 454.93L640.21 456.83L641.97 459.33L643.73 460.85L645.49 463.54L647.24 465.52L649 468.5L650.96 470.79L652.92 473.34L654.88 473.69L656.84 475.4L658.8 478.3L660.83 481.03L662.87 482.51L664.9 485.06L666.93 486.42L668.97 488.91L671 491.8L673.03 493.82L675.07 495.28L677.1 496.7L678.32 500.11L679.54 503.03L680.76 504.52L681.98 507.74L683.2 510.2L685.05 512.22L686.9 514.46L688.75 516.36L690.6 518.7L693.05 520.9L695.5 521.2L696.96 524.13L698.42 525.84L699.88 529.64L701.34 532.85L702.8 534.6L704.32 537.84L705.85 539.62L707.38 540.98L708.9 544.4M311.98 308.94L313.61 311.59L315.25 313.88L316.88 315.06L319.32 317.36L321.77 318.73L324.22 318.95L326.67 319.46L328.5 318.24L330.34 317.5L331.56 320.03L332.79 320.8L334.01 323.62L335.85 324.8L337.69 324.85L339.52 326.07L341.36 327.29L343.19 326.19L345.03 326.81L346.66 329.25L348.3 330.18L349.93 332.19L351.76 332.01L353.6 333.41L355.44 334.6L357.27 337.09L359.11 338.42L360.94 338.31L363.39 338.88L365.84 340.76L367.92 342.55L370 343.21L372.45 345.38L374.9 345.5L377.35 347.76L379.8 350.02L382.25 350.99L384.7 353.3L387.15 353.88L389.6 355.94L392.05 356.67L394.5 358.8L397.22 361.11L399.94 362.72L402.67 363.8L405.39 364.94L408.11 366.61L410.83 368.72L413.56 369.41L416.28 371.8L419 373.4L421.71 374.62L424.42 376.35L427.13 377.94L429.84 380.6L432.56 380.92L435.27 382.67L437.98 384.16L440.69 385.5L443.4 388.1L446.13 389.58L448.87 392.05L451.6 393.81L454.33 394.61L457.07 396.11L459.8 398.64L462.53 399.59L465.27 401.26L468 402.8L470.43 404.86L472.86 405.47L475.29 408.75L477.71 409.04L480.14 411.65L482.57 414.19L485 415.1L487.5 416.63L490 417.64L492.5 419.84L495 421.62L497.5 422.47L500 423.67L502.45 424.41L504.9 427.69L507.35 427.6L509.79 430.55L512.24 432.63L514.69 433.46L516.65 434.73L518.61 437.44L520.56 439.75L522.52 440.65L524.48 443.26L526.44 444.71L528.4 446.31L530.35 448.45L532.31 450.33L534.27 453.05L536.72 454.35L539.17 456.98L541.61 458.58L544.06 460.43L546.51 461.62L548.71 463.41L550.92 465.14L553.12 465.32L555.33 467.6L557.53 468.96L559.06 470.76L560.59 474.45L562.12 477.91L563.65 479.98L565.49 481.76L567.32 483.24L569.15 485.03L570.99 487.32L573.44 488.33L575.89 490.59L578.34 490.99L580.79 492.1L583.23 491.81L585.68 491.48L587.72 493.27L589.76 493.64L591.8 493.93L593.33 495.82L594.86 498.45L596.39 501.35L597.92 503.23L599.55 505.89L601.18 508.08L602.82 509.94L604.45 511.5L606.08 515.37L607.71 516.7L610.16 518.16L612.61 521.69L615.05 522.01L617.5 524.77L619.46 528.03L621.42 529.13L623.37 532.3L625.33 532.99L627.29 536.28L629 538.37L630.72 540.18L632.43 543.28L634.15 545.41L635.86 547.29L637.08 549.91L638.31 553.09L639.53 556.33L640.76 557.25L641.98 560.76L644.43 562.93L646.88 565.19L649.33 566.88L651.53 568.52L653.73 569.14L655.94 571.74L658.14 571.85L660.34 573.73L661.87 577.11L663.4 579.06L664.93 581.09L666.46 584.5L668.5 587.43L670.54 588.23L672.58 591.36L675.03 591.95L677.48 591.36L679.11 593.19L680.74 595.37L682.37 596.25L683.6 598.9L684.82 600.13L686.05 602.37M280.65 350.55L282.86 350.43L285.06 351.77L286.89 350.33L288.73 349.82L290.56 351.02L292.4 354.22L294.85 353.92L297.29 353L298.92 354.21L300.56 356.44L302.19 359.12L304.64 359.22L307.09 360.34L309.13 362.19L311.17 364.79L313.21 366.46L315.04 365.12L316.88 364.01L319.32 365.86L321.77 367.69L323.81 367.69L325.85 368.99L327.89 370.13L330.34 371.38L332.79 373.81L334.42 375.92L336.06 376.11L337.69 378.7L340.13 380.16L342.58 381.15L345.03 382.16L347.48 382.37L349.11 384.42L350.74 385.54L352.37 388.49L354.41 388.81L356.45 389.6L358.49 390.94L360.94 392.31L363.39 394.61L365.59 394.95L367.8 397.19L370 397.06L372.45 399.2L374.9 400.95L377.35 402.15L379.8 402.97L382.25 405.71L384.7 406.35L387.15 407.31L389.6 409.95L392.05 410.56L394.5 412.6L397.22 414.88L399.94 416.35L402.67 417.08L405.39 419.05L408.11 421.2L410.83 422.74L413.56 424.09L416.28 425.09L419 427.3L421.43 428.58L423.87 430.96L426.3 432.11L428.73 434.27L431.17 435.83L433.6 437.1L436.05 438.19L438.5 439.05L440.95 441.59L443.4 442.31L445.85 444.1L448.3 444.6L450.75 446.02L453.2 448.1L455.67 449.58L458.13 451.71L460.6 452.23L463.07 455.18L465.53 456.97L468 457.9L470.43 459.82L472.86 461.54L475.29 462.09L477.71 463.39L480.14 465.42L482.57 466.58L485 468.9L487.45 470.42L489.9 472.8L492.35 473.52L494.8 476.36L497.25 477.24L499.7 478.35L502.15 481L504.6 482.4L507.06 483.68L509.51 484.86L511.97 486.63L514.43 488.98L516.89 489.9L519.34 490.39L521.8 492.2L524.25 495L526.7 495.47L529.15 497.87L531.6 500L533.76 501.63L535.91 504.75L538.07 504.68L540.22 507.85L542.38 509.46L544.53 510.65L546.69 513.51L548.84 515.73L551 517L553.38 519.38L555.75 519.86L558.12 523.14L560.5 524.09L562.88 526.96L565.25 528.22L567.62 529.11L570 531.8L572.31 534.2L574.62 535.76L576.92 537.45L579.23 539.74L581.54 541.26L583.85 542.37L586.15 546.03L588.46 546.7L590.77 548.6L593.08 550.05L595.38 553.3L597.69 555.6L600 556.7L601.96 558.59L603.92 561.25L605.88 562.24L607.84 564.31L609.8 566.5L611.76 567.78L613.72 569.49L615.68 571.72L617.64 572.95L619.6 575L622.05 573.78L624.5 574.3L625.96 577.02L627.42 578.6L628.88 581.1L630.34 583.03L631.8 586L633.43 587.17L635.07 590.44L636.7 592.2L638.33 594.08L639.97 597.13L641.6 598.3L642.83 599.49L644.05 603.25L645.27 603.79L646.5 606.9L648.46 608.21L650.42 609.85L652.38 612.8L654.34 614.45L656.3 616.7L658.45 618.19L660.6 621.35L662.75 622.41L664.9 624.1L666.32 627.8L667.73 630.58L669.15 632.33L670.57 635.81L671.98 637.74L673.4 641.2L674.83 643.38L676.27 646.47L677.7 648.69L679.13 650.17L680.57 652.61L682 655.9L684.45 658.29L686.9 659.6L687.72 662.65L688.53 665.2L689.35 666.99L690.17 670.77L690.98 673L691.8 675.5L693.03 676.83L694.27 678.9L695.5 681.6L697.3 683.44L699.1 684.8M286.28 425.7L287.5 428.7L288.73 429.95L289.95 431.82L291.78 432.03L293.62 433.05L295.46 435.07L297.29 436.23L299.74 435.27L302.19 435.5L304.02 437.62L305.86 439.17L307.69 439.61L309.53 440.39L311.98 441.29L314.43 444.06L316.88 444.71L319.33 445.29L321.16 446.53L323 447.74L325.44 450.4L327.89 451.41L329.73 451.83L331.57 451.41L334.01 452.85L336.46 455.08L338.29 457.21L340.13 458.75L342.58 458.25L345.03 458.75L347.48 460.89L349.93 462.42L351.76 464.46L353.6 466.1L356.05 466.33L358.49 466.1L360.12 467.05L361.76 469.78L363.39 470.99L365.59 471.88L367.8 473.11L370 473.44L372.45 473.95L374.9 476.75L377.35 478.6L379.8 479.29L382.25 479.82L384.7 482.81L387.15 483.49L389.6 484.8L392.04 485.83L394.48 488L396.92 489.96L399.36 489.94L401.8 492.2L404.24 493.88L406.68 495.59L409.12 497.73L411.56 497.52L414 500L416.45 501.65L418.9 503.73L421.35 505.22L423.8 507.26L426.25 508.48L428.7 510.06L431.15 511.65L433.6 512.4L436.05 515.41L438.5 516.37L440.95 517.01L443.4 519.6L445.86 522.08L448.32 523.66L450.78 525.43L453.24 526.06L455.7 529.21L458.16 530.32L460.62 533.11L463.08 533.63L465.54 535.83L468 538L470.43 538.78L472.86 540.18L475.29 542.36L477.71 544.68L480.14 545.7L482.57 547.02L485 549L487.44 551.76L489.89 553.23L492.33 555.61L494.78 556.16L497.22 557.83L499.67 561.27L502.11 561.38L504.56 564.68L507 566L509.44 568.81L511.89 570.26L514.33 571.88L516.78 573.38L519.22 575.15L521.67 576.6L524.11 579.14L526.56 581.29L529 583.2L531.2 584.66L533.4 588.06L535.6 590.08L537.8 590.62L540 593.2L542.2 595.73L544.4 597.09L546.6 598.58L548.8 601.53L551 602.8L553.47 604.49L555.93 606.31L558.4 608.21L560.87 608.91L563.33 611.34L565.8 612.6L567.2 614.17L568.6 616.97L570 618.7L572.39 619.84L574.77 622.55L577.16 623.28L579.54 626.14L581.93 626.19L584.31 628.9L586.7 630.1L588.43 633.26L590.15 635.74L591.88 637.49L593.6 639.9L595.73 641.23L597.87 641.96L600 643.6L602.45 646.16L604.9 647.82L607.35 649.18L609.8 651L612.25 652.83L614.7 655.49L617.15 656.6L619.6 658.3L621.56 659.21L623.52 660.96L625.48 663.99L627.44 665.23L629.4 666.9L631.85 667.36L634.3 667.6L636 669.53L637.7 670.77L639.4 674.39L641.1 675.6L642.8 677.9L644.87 680.26L646.93 682.65L649 685.2L651.43 686.13L653.87 689.46L656.3 690.2L658.73 691.92L661.17 690.82L663.6 692.6L665.15 693.56L666.7 696.07L668.25 699.11L669.8 700L671 702.4L672.2 705.71L673.4 707.3L674.62 709.13L675.85 711.59L677.07 714.41L678.3 715.9L679.52 718.67L680.75 720.41L681.98 723.16L683.2 725.7L684.43 728.78L685.67 731.17L686.9 734.2L688.3 736.06L689.7 738.58L691.1 741.6M308.31 497.92L310.14 499.01L311.98 499.14L313.21 501.01L314.43 504.04L316.26 502.8L318.1 502.82L319.94 504.23L321.77 506.49L323.61 508.08L325.45 507.71L327.28 508.08L329.12 506.49L330.96 508.89L332.79 511.38L334.62 512.04L336.46 513.83L338.29 514.33L340.13 515.06L341.36 518.27L342.58 519.95L344.41 519.5L346.25 518.73L347.88 521.16L349.52 522.75L351.15 523.62L352.99 524.86L354.82 524.85L356.65 526.84L358.49 527.29L360.33 528.54L362.17 529.74L364 529.08L365.84 529.74L367.92 532.13L370 533.41L372.45 535.84L374.9 536.63L377.35 537.25L379.8 539.2L382.2 538L384.66 540.56L387.12 542.25L389.58 543.95L392.04 545.13L394.5 546.5L397.22 549.01L399.94 549.23L402.67 551.55L405.39 554.02L408.11 555.66L410.83 556.9L413.56 558.11L416.28 559.82L419 561.2L421.44 562.57L423.88 563.83L426.32 566.76L428.76 567.73L431.2 568.87L433.64 570.39L436.08 571.67L438.52 573.29L440.96 575.85L443.4 577.1L445.86 578.38L448.32 580.15L450.78 582.92L453.24 583.13L455.7 586.55L458.16 587.19L460.62 589.72L463.08 591.43L465.54 592.86L468 594.2L470.43 594.79L472.86 597.48L475.29 598.55L477.71 599.76L480.14 601.67L482.57 603.44L485 604.6L487.44 606.29L489.89 608.24L492.33 609.76L494.78 611.58L497.22 614.4L499.67 617.02L502.11 617.17L504.56 620.2L507 621.8L509.2 623.92L511.4 626.14L513.6 627.2L515.8 629L518 630.97L520.2 634L522.4 635.94L524.6 637.79L526.8 638.64L529 641L531.2 642.82L533.4 644.7L535.6 647.55L537.8 648.71L540 651.79L542.2 653.95L544.4 655.49L546.6 656.83L548.8 659.07L551 661.6L553.38 663.72L555.75 666.05L558.12 666.96L560.5 669.85L562.88 672.35L565.25 673.99L567.62 676.29L570 677.5L572.22 680.2L574.44 680.6L576.67 682.25L578.89 685.41L581.11 686.17L583.33 687.38L585.56 690.19L587.78 691.68L590 693.5L592.03 695.33L594.07 699.23L596.1 700.81L598.13 704.28L600.17 705.31L602.2 708.2L604.23 709.75L606.27 713.88L608.3 715.09L610.33 718.78L612.37 720.34L614.4 722.8L616.45 725.44L618.5 726.53L620.55 729.08L622.6 732.16L624.65 734.95L626.7 736.3L628.54 739.08L630.38 741.38L632.21 743.26L634.05 745.79L635.89 746.46L637.73 748.37L639.56 750.74L641.4 753.4L643.1 755.59L644.8 757.21L646.5 759.5L648.13 760.69L649.77 762.98L651.4 765.41L653.03 767.64L654.67 769.72L656.3 772.2L657.76 774.79L659.22 777.43L660.68 780.27L662.14 781.8L663.6 784.5L665.67 784.54L667.73 782.6L669.8 782L670.78 784.31L671.76 786.75L672.74 789.91L673.72 792.32L674.7 794.3L676.53 795.97L678.35 797.64L680.17 798.94L682 801.6L685.05 801.11L688.1 801.6L689.1 802.78L690.1 805.33L691.1 807.7M295.94 577.11L297.65 577.34L299.37 578.82L301.09 577.83L302.8 576.25L304.09 579.31L305.37 581.39L307.68 583.08L309.99 584.82L311.6 583.56L313.21 582.37L314 584.51L314.8 588.19L315.59 590.71L316.39 592.17L317.86 591.23L319.33 589.72L321.77 588.49L324.22 590.41L326.67 590.94L329.12 592.53L331.57 594.61L334.01 595.4L336.46 595.84L338.91 596.8L341.36 598.29L343.19 600.04L345.03 600L347.8 601.75L350.58 603.85L353.35 604.84L356.13 605.3L358.9 607.28L361.68 609.39L364.45 611.56L367.23 612.58L370 613.8L372.72 614.73L375.44 616.56L378.17 617.73L380.89 619.63L383.61 620.13L386.33 620.15L389.06 623.33L391.78 622.87L394.5 624.8L396.94 626.28L399.39 629.24L401.83 630.42L404.27 632.19L406.71 633.45L409.16 635.14L411.6 637.1L414.04 638.34L416.49 640.89L418.93 641.73L421.38 642.88L423.82 644.67L426.27 646.19L428.71 649.33L431.16 649.7L433.6 651.8L436.05 653.1L438.5 655.79L440.95 656.91L443.4 659.76L445.85 661.36L448.3 663L450.75 664.62L453.2 666.5L455.65 667.93L458.1 669.73L460.55 671.94L463 672.32L465.45 674.34L467.9 676.95L470.35 678.64L472.8 679.9L475.24 681.22L477.68 681.78L480.12 682.89L482.56 684.69L485 685.8L487.38 687.1L489.75 689.83L492.12 691.66L494.5 692.9L496.95 695.37L499.4 697.22L501.85 699.78L504.3 701.13L506.75 702.61L509.2 704.56L511.65 706.31L514.1 709.38L516.55 711.7L519 713.2L521.22 715.52L523.44 716.66L525.65 719.9L527.87 722.08L530.09 723.44L532.31 725.89L534.53 727.05L536.75 730.2L538.96 731.14L541.18 733.9L543.4 736.3L545.55 738.91L547.7 740.53L549.85 742.01L552 745.08L554.15 746.49L556.3 749.08L558.45 750.19L560.6 752.2L563.05 754.34L565.5 756.15L567.95 756.8L570.4 758.81L572.85 760.62L575.3 763.2L577.33 764.87L579.37 768.67L581.4 770.29L583.43 772.64L585.47 775.29L587.5 776.7L589.95 777.26L592.4 779.1L594.85 779.61L597.3 779.1L598.52 781.3L599.75 783.16L600.98 786.04L602.2 787.7L604.16 790.76L606.12 792.81L608.08 795.45L610.04 798.24L612 800L614.43 801.76L616.87 804.74L619.3 806.1L621.77 806.22L624.23 807.26L626.7 806.6L628.23 809.66L629.75 812.08L631.27 815.43L632.8 817.1L634.52 819.32L636.24 820.93L637.96 823.76L639.68 825.65L641.4 828.1L643.12 831L644.84 831.38L646.56 834.23L648.28 836.06L650 837.9L653 837.5L656 838.6L656.92 841.57L657.85 843.91L658.78 846.19L659.7 848.9L661.3 852.36L662.9 853.22L664.5 856.81L666.1 859.1L667.95 859.33L669.8 860.4L671.02 863.14L672.25 865.64L673.48 869.02L674.7 871.4L676.73 874.38L678.77 874.96L680.8 878" stroke="#ff00ff" stroke-width="4.2"/>
</g>
<path d="M222.99 985v-9.5M222.99 15.2v9.5M250.19 985v-9.5M250.19 15.2v9.5M269.49 985v-9.5M269.49 15.2v9.5M284.46 985v-9.5M284.46 15.2v9.5M296.69 985v-9.5M296.69 15.2v9.5M307.03 985v-9.5M307.03 15.2v9.5M315.98 985v-9.5M315.98 15.2v9.5M323.88 985v-9.5M323.88 15.2v9.5M330.95 985v-19M330.95 15.2v19M377.44 985v-9.5M377.44 15.2v9.5M404.64 985v-9.5M404.64 15.2v9.5M423.94 985v-9.5M423.94 15.2v9.5M438.91 985v-9.5M438.91 15.2v9.5M451.14 985v-9.5M451.14 15.2v9.5M461.48 985v-9.5M461.48 15.2v9.5M470.43 985v-9.5M470.43 15.2v9.5M478.33 985v-9.5M478.33 15.2v9.5M485.4 985v-19M485.4 15.2v19M531.89 985v-9.5M531.89 15.2v9.5M559.09 985v-9.5M559.09 15.2v9.5M578.39 985v-9.5M578.39 15.2v9.5M593.36 985v-9.5M593.36 15.2v9.5M605.59 985v-9.5M605.59 15.2v9.5M615.93 985v-9.5M615.93 15.2v9.5M624.88 985v-9.5M624.88 15.2v9.5M632.78 985v-9.5M632.78 15.2v9.5M639.85 985v-19M639.85 15.2v19M686.34 985v-9.5M686.34 15.2v9.5M713.54 985v-9.5M713.54 15.2v9.5M732.84 985v-9.5M732.84 15.2v9.5M747.81 985v-9.5M747.81 15.2v9.5M760.04 985v-9.5M760.04 15.2v9.5M770.38 985v-9.5M770.38 15.2v9.5M779.33 985v-9.5M779.33 15.2v9.5M787.23 985v-9.5M787.23 15.2v9.5M176.5 84.47h19M794.3 84.47h-19M176.5 63.62h9.5M794.3 63.62h-9.5M176.5 51.42h9.5M794.3 51.42h-9.5M176.5 42.77h9.5M794.3 42.77h-9.5M176.5 36.05h9.5M794.3 36.05h-9.5M176.5 30.57h9.5M794.3 30.57h-9.5M176.5 25.93h9.5M794.3 25.93h-9.5M176.5 21.91h9.5M794.3 21.91h-9.5M176.5 18.37h9.5M794.3 18.37h-9.5M176.5 153.74h19M794.3 153.74h-19M176.5 132.89h9.5M794.3 132.89h-9.5M176.5 120.69h9.5M794.3 120.69h-9.5M176.5 112.04h9.5M794.3 112.04h-9.5M176.5 105.32h9.5M794.3 105.32h-9.5M176.5 99.84h9.5M794.3 99.84h-9.5M176.5 95.2h9.5M794.3 95.2h-9.5M176.5 91.18h9.5M794.3 91.18h-9.5M176.5 87.64h9.5M794.3 87.64h-9.5M176.5 223.01h19M794.3 223.01h-19M176.5 202.16h9.5M794.3 202.16h-9.5M176.5 189.96h9.5M794.3 189.96h-9.5M176.5 181.31h9.5M794.3 181.31h-9.5M176.5 174.6h9.5M794.3 174.6h-9.5M176.5 169.11h9.5M794.3 169.11h-9.5M176.5 164.47h9.5M794.3 164.47h-9.5M176.5 160.46h9.5M794.3 160.46h-9.5M176.5 156.91h9.5M794.3 156.91h-9.5M176.5 292.29h19M794.3 292.29h-19M176.5 271.43h9.5M794.3 271.43h-9.5M176.5 259.23h9.5M794.3 259.23h-9.5M176.5 250.58h9.5M794.3 250.58h-9.5M176.5 243.87h9.5M794.3 243.87h-9.5M176.5 238.38h9.5M794.3 238.38h-9.5M176.5 233.74h9.5M794.3 233.74h-9.5M176.5 229.73h9.5M794.3 229.73h-9.5M176.5 226.18h9.5M794.3 226.18h-9.5M176.5 361.56h19M794.3 361.56h-19M176.5 340.7h9.5M794.3 340.7h-9.5M176.5 328.51h9.5M794.3 328.51h-9.5M176.5 319.85h9.5M794.3 319.85h-9.5M176.5 313.14h9.5M794.3 313.14h-9.5M176.5 307.65h9.5M794.3 307.65h-9.5M176.5 303.02h9.5M794.3 303.02h-9.5M176.5 299h9.5M794.3 299h-9.5M176.5 295.46h9.5M794.3 295.46h-9.5M176.5 430.83h19M794.3 430.83h-19M176.5 409.98h9.5M794.3 409.98h-9.5M176.5 397.78h9.5M794.3 397.78h-9.5M176.5 389.12h9.5M794.3 389.12h-9.5M176.5 382.41h9.5M794.3 382.41h-9.5M176.5 376.92h9.5M794.3 376.92h-9.5M176.5 372.29h9.5M794.3 372.29h-9.5M176.5 368.27h9.5M794.3 368.27h-9.5M176.5 364.73h9.5M794.3 364.73h-9.5M176.5 500.1h19M794.3 500.1h-19M176.5 479.25h9.5M794.3 479.25h-9.5M176.5 467.05h9.5M794.3 467.05h-9.5M176.5 458.39h9.5M794.3 458.39h-9.5M176.5 451.68h9.5M794.3 451.68h-9.5M176.5 446.2h9.5M794.3 446.2h-9.5M176.5 441.56h9.5M794.3 441.56h-9.5M176.5 437.54h9.5M794.3 437.54h-9.5M176.5 434h9.5M794.3 434h-9.5M176.5 569.37h19M794.3 569.37h-19M176.5 548.52h9.5M794.3 548.52h-9.5M176.5 536.32h9.5M794.3 536.32h-9.5M176.5 527.67h9.5M794.3 527.67h-9.5M176.5 520.95h9.5M794.3 520.95h-9.5M176.5 515.47h9.5M794.3 515.47h-9.5M176.5 510.83h9.5M794.3 510.83h-9.5M176.5 506.81h9.5M794.3 506.81h-9.5M176.5 503.27h9.5M794.3 503.27h-9.5M176.5 638.64h19M794.3 638.64h-19M176.5 617.79h9.5M794.3 617.79h-9.5M176.5 605.59h9.5M794.3 605.59h-9.5M176.5 596.94h9.5M794.3 596.94h-9.5M176.5 590.22h9.5M794.3 590.22h-9.5M176.5 584.74h9.5M794.3 584.74h-9.5M176.5 580.1h9.5M794.3 580.1h-9.5M176.5 576.08h9.5M794.3 576.08h-9.5M176.5 572.54h9.5M794.3 572.54h-9.5M176.5 707.91h19M794.3 707.91h-19M176.5 687.06h9.5M794.3 687.06h-9.5M176.5 674.86h9.5M794.3 674.86h-9.5M176.5 666.21h9.5M794.3 666.21h-9.5M176.5 659.5h9.5M794.3 659.5h-9.5M176.5 654.01h9.5M794.3 654.01h-9.5M176.5 649.37h9.5M794.3 649.37h-9.5M176.5 645.36h9.5M794.3 645.36h-9.5M176.5 641.81h9.5M794.3 641.81h-9.5M176.5 777.19h19M794.3 777.19h-19M176.5 756.33h9.5M794.3 756.33h-9.5M176.5 744.13h9.5M794.3 744.13h-9.5M176.5 735.48h9.5M794.3 735.48h-9.5M176.5 728.77h9.5M794.3 728.77h-9.5M176.5 723.28h9.5M794.3 723.28h-9.5M176.5 718.64h9.5M794.3 718.64h-9.5M176.5 714.63h9.5M794.3 714.63h-9.5M176.5 711.08h9.5M794.3 711.08h-9.5M176.5 846.46h19M794.3 846.46h-19M176.5 825.6h9.5M794.3 825.6h-9.5M176.5 813.41h9.5M794.3 813.41h-9.5M176.5 804.75h9.5M794.3 804.75h-9.5M176.5 798.04h9.5M794.3 798.04h-9.5M176.5 792.55h9.5M794.3 792.55h-9.5M176.5 787.92h9.5M794.3 787.92h-9.5M176.5 783.9h9.5M794.3 783.9h-9.5M176.5 780.36h9.5M794.3 780.36h-9.5M176.5 915.73h19M794.3 915.73h-19M176.5 894.88h9.5M794.3 894.88h-9.5M176.5 882.68h9.5M794.3 882.68h-9.5M176.5 874.02h9.5M794.3 874.02h-9.5M176.5 867.31h9.5M794.3 867.31h-9.5M176.5 861.82h9.5M794.3 861.82h-9.5M176.5 857.19h9.5M794.3 857.19h-9.5M176.5 853.17h9.5M794.3 853.17h-9.5M176.5 849.63h9.5M794.3 849.63h-9.5M176.5 964.15h9.5M794.3 964.15h-9.5M176.5 951.95h9.5M794.3 951.95h-9.5M176.5 943.29h9.5M794.3 943.29h-9.5M176.5 936.58h9.5M794.3 936.58h-9.5M176.5 931.1h9.5M794.3 931.1h-9.5M176.5 926.46h9.5M794.3 926.46h-9.5M176.5 922.44h9.5M794.3 922.44h-9.5M176.5 918.9h9.5M794.3 918.9h-9.5" fill="none" stroke="#000" stroke-width="1.5"/>
<rect x="176.5" y="15.2" width="617.8" height="969.8" fill="none" stroke="#000" stroke-width="1.6"/>
<path d="M133.3 6.3L135.7 5.1L139.3 1.5L139.3 26.7M76.7 75.67L79.1 74.47L82.7 70.87L82.7 96.07M104.3 70.87L100.7 72.07L98.3 75.67L97.1 81.67L97.1 85.27L98.3 91.27L100.7 94.87L104.3 96.07L106.7 96.07L110.3 94.87L112.7 91.27L113.9 85.27L113.9 81.67L112.7 75.67L110.3 72.07L106.7 70.87L104.3 70.87M121.04 69.21L136.97 69.21M145.82 62.13L147.59 61.24L150.25 58.59L150.25 77.17M76.7 144.94L79.1 143.74L82.7 140.14L82.7 165.34M104.3 140.14L100.7 141.34L98.3 144.94L97.1 150.94L97.1 154.54L98.3 160.54L100.7 164.14L104.3 165.34L106.7 165.34L110.3 164.14L112.7 160.54L113.9 154.54L113.9 150.94L112.7 144.94L110.3 141.34L106.7 140.14L104.3 140.14M121.04 138.48L136.97 138.48M144.05 132.28L144.05 131.4L144.94 129.63L145.82 128.74L147.59 127.86L151.13 127.86L152.9 128.74L153.78 129.63L154.67 131.4L154.67 133.17L153.78 134.94L152.01 137.59L143.16 146.44L155.55 146.44M76.7 214.21L79.1 213.01L82.7 209.41L82.7 234.61M104.3 209.41L100.7 210.61L98.3 214.21L97.1 220.21L97.1 223.81L98.3 229.81L100.7 233.41L104.3 234.61L106.7 234.61L110.3 233.41L112.7 229.81L113.9 223.81L113.9 220.21L112.7 214.21L110.3 210.61L106.7 209.41L104.3 209.41M121.04 207.75L136.97 207.75M144.94 197.13L154.67 197.13L149.36 204.21L152.01 204.21L153.78 205.09L154.67 205.98L155.55 208.63L155.55 210.4L154.67 213.06L152.9 214.83L150.25 215.71L147.59 215.71L144.94 214.83L144.05 213.94L143.16 212.17M76.7 283.49L79.1 282.29L82.7 278.69L82.7 303.89M104.3 278.69L100.7 279.89L98.3 283.49L97.1 289.49L97.1 293.09L98.3 299.09L100.7 302.69L104.3 303.89L106.7 303.89L110.3 302.69L112.7 299.09L113.9 293.09L113.9 289.49L112.7 283.49L110.3 279.89L106.7 278.69L104.3 278.69M121.04 277.02L136.97 277.02M152.01 266.4L143.16 278.79L156.44 278.79M152.01 266.4L152.01 284.99M76.7 352.76L79.1 351.56L82.7 347.96L82.7 373.16M104.3 347.96L100.7 349.16L98.3 352.76L97.1 358.76L97.1 362.36L98.3 368.36L100.7 371.96L104.3 373.16L106.7 373.16L110.3 371.96L112.7 368.36L113.9 362.36L113.9 358.76L112.7 352.76L110.3 349.16L106.7 347.96L104.3 347.96M121.04 346.29L136.97 346.29M153.78 335.67L144.94 335.67L144.05 343.64L144.94 342.75L147.59 341.87L150.25 341.87L152.9 342.75L154.67 344.52L155.55 347.18L155.55 348.95L154.67 351.6L152.9 353.37L150.25 354.26L147.59 354.26L144.94 353.37L144.05 352.49L143.16 350.72M76.7 422.03L79.1 420.83L82.7 417.23L82.7 442.43M104.3 417.23L100.7 418.43L98.3 422.03L97.1 428.03L97.1 431.63L98.3 437.63L100.7 441.23L104.3 442.43L106.7 442.43L110.3 441.23L112.7 437.63L113.9 431.63L113.9 428.03L112.7 422.03L110.3 418.43L106.7 417.23L104.3 417.23M121.04 415.56L136.97 415.56M154.67 407.6L153.78 405.83L151.13 404.94L149.36 404.94L146.7 405.83L144.94 408.48L144.05 412.91L144.05 417.33L144.94 420.87L146.7 422.64L149.36 423.53L150.25 423.53L152.9 422.64L154.67 420.87L155.55 418.22L155.55 417.33L154.67 414.68L152.9 412.91L150.25 412.02L149.36 412.02L146.7 412.91L144.94 414.68L144.05 417.33M76.7 491.3L79.1 490.1L82.7 486.5L82.7 511.7M104.3 486.5L100.7 487.7L98.3 491.3L97.1 497.3L97.1 500.9L98.3 506.9L100.7 510.5L104.3 511.7L106.7 511.7L110.3 510.5L112.7 506.9L113.9 500.9L113.9 497.3L112.7 491.3L110.3 487.7L106.7 486.5L104.3 486.5M121.04 484.84L136.97 484.84M155.55 474.22L146.7 492.8M143.16 474.22L155.55 474.22M76.7 560.57L79.1 559.37L82.7 555.77L82.7 580.97M104.3 555.77L100.7 556.97L98.3 560.57L97.1 566.57L97.1 570.17L98.3 576.17L100.7 579.77L104.3 580.97L106.7 580.97L110.3 579.77L112.7 576.17L113.9 570.17L113.9 566.57L112.7 560.57L110.3 556.97L106.7 555.77L104.3 555.77M121.04 554.11L136.97 554.11M147.59 543.49L144.94 544.37L144.05 546.14L144.05 547.91L144.94 549.68L146.7 550.57L150.25 551.45L152.9 552.34L154.67 554.11L155.55 555.88L155.55 558.53L154.67 560.3L153.78 561.19L151.13 562.07L147.59 562.07L144.94 561.19L144.05 560.3L143.16 558.53L143.16 555.88L144.05 554.11L145.82 552.34L148.47 551.45L152.01 550.57L153.78 549.68L154.67 547.91L154.67 546.14L153.78 544.37L151.13 543.49L147.59 543.49M76.7 629.84L79.1 628.64L82.7 625.04L82.7 650.24M104.3 625.04L100.7 626.24L98.3 629.84L97.1 635.84L97.1 639.44L98.3 645.44L100.7 649.04L104.3 650.24L106.7 650.24L110.3 649.04L112.7 645.44L113.9 639.44L113.9 635.84L112.7 629.84L110.3 626.24L106.7 625.04L104.3 625.04M121.04 623.38L136.97 623.38M154.67 618.95L153.78 621.61L152.01 623.38L149.36 624.26L148.47 624.26L145.82 623.38L144.05 621.61L143.16 618.95L143.16 618.07L144.05 615.41L145.82 613.64L148.47 612.76L149.36 612.76L152.01 613.64L153.78 615.41L154.67 618.95L154.67 623.38L153.78 627.8L152.01 630.46L149.36 631.34L147.59 631.34L144.94 630.46L144.05 628.69M62.3 699.11L64.7 697.91L68.3 694.31L68.3 719.51M89.9 694.31L86.3 695.51L83.9 699.11L82.7 705.11L82.7 708.71L83.9 714.71L86.3 718.31L89.9 719.51L92.3 719.51L95.9 718.31L98.3 714.71L99.5 708.71L99.5 705.11L98.3 699.11L95.9 695.51L92.3 694.31L89.9 694.31M106.64 692.65L122.57 692.65M131.42 685.57L133.19 684.68L135.84 682.03L135.84 700.61M151.78 682.03L149.12 682.91L147.35 685.57L146.47 689.99L146.47 692.65L147.35 697.07L149.12 699.73L151.78 700.61L153.55 700.61L156.2 699.73L157.97 697.07L158.85 692.65L158.85 689.99L157.97 685.57L156.2 682.91L153.55 682.03L151.78 682.03M62.3 768.39L64.7 767.19L68.3 763.59L68.3 788.79M89.9 763.59L86.3 764.79L83.9 768.39L82.7 774.39L82.7 777.99L83.9 783.99L86.3 787.59L89.9 788.79L92.3 788.79L95.9 787.59L98.3 783.99L99.5 777.99L99.5 774.39L98.3 768.39L95.9 764.79L92.3 763.59L89.9 763.59M106.64 761.92L122.57 761.92M131.42 754.84L133.19 753.96L135.84 751.3L135.84 769.89M149.12 754.84L150.89 753.96L153.55 751.3L153.55 769.89M62.3 837.66L64.7 836.46L68.3 832.86L68.3 858.06M89.9 832.86L86.3 834.06L83.9 837.66L82.7 843.66L82.7 847.26L83.9 853.26L86.3 856.86L89.9 858.06L92.3 858.06L95.9 856.86L98.3 853.26L99.5 847.26L99.5 843.66L98.3 837.66L95.9 834.06L92.3 832.86L89.9 832.86M106.64 831.19L122.57 831.19M131.42 824.11L133.19 823.23L135.84 820.57L135.84 839.16M147.35 825L147.35 824.11L148.24 822.34L149.12 821.46L150.89 820.57L154.43 820.57L156.2 821.46L157.09 822.34L157.97 824.11L157.97 825.88L157.09 827.65L155.31 830.31L146.47 839.16L158.85 839.16M62.3 906.93L64.7 905.73L68.3 902.13L68.3 927.33M89.9 902.13L86.3 903.33L83.9 906.93L82.7 912.93L82.7 916.53L83.9 922.53L86.3 926.13L89.9 927.33L92.3 927.33L95.9 926.13L98.3 922.53L99.5 916.53L99.5 912.93L98.3 906.93L95.9 903.33L92.3 902.13L89.9 902.13M106.64 900.46L122.57 900.46M131.42 893.38L133.19 892.5L135.84 889.84L135.84 908.43M148.24 889.84L157.97 889.84L152.66 896.92L155.31 896.92L157.09 897.81L157.97 898.69L158.85 901.35L158.85 903.12L157.97 905.77L156.2 907.54L153.55 908.43L150.89 908.43L148.24 907.54L147.35 906.66L146.47 904.89M62.3 976.2L64.7 975L68.3 971.4L68.3 996.6M89.9 971.4L86.3 972.6L83.9 976.2L82.7 982.2L82.7 985.8L83.9 991.8L86.3 995.4L89.9 996.6L92.3 996.6L95.9 995.4L98.3 991.8L99.5 985.8L99.5 982.2L98.3 976.2L95.9 972.6L92.3 971.4L89.9 971.4M106.64 969.74L122.57 969.74M131.42 962.66L133.19 961.77L135.84 959.12L135.84 977.7M155.31 959.12L146.47 971.5L159.74 971.5M155.31 959.12L155.31 977.7M144.1 1010.9L146.5 1009.7L150.1 1006.1L150.1 1031.3M171.7 1006.1L168.1 1007.3L165.7 1010.9L164.5 1016.9L164.5 1020.5L165.7 1026.5L168.1 1030.1L171.7 1031.3L174.1 1031.3L177.7 1030.1L180.1 1026.5L181.3 1020.5L181.3 1016.9L180.1 1010.9L177.7 1007.3L174.1 1006.1L171.7 1006.1M188.44 1004.43L204.37 1004.43M212.34 993.81L222.07 993.81L216.76 1000.89L219.41 1000.89L221.19 1001.78L222.07 1002.66L222.95 1005.32L222.95 1007.09L222.07 1009.75L220.3 1011.51L217.64 1012.4L214.99 1012.4L212.34 1011.51L211.45 1010.63L210.56 1008.86M299.75 1006.1L296.15 1007.3L293.75 1010.9L292.55 1016.9L292.55 1020.5L293.75 1026.5L296.15 1030.1L299.75 1031.3L302.15 1031.3L305.75 1030.1L308.15 1026.5L309.35 1020.5L309.35 1016.9L308.15 1010.9L305.75 1007.3L302.15 1006.1L299.75 1006.1M318.95 1028.9L317.75 1030.1L318.95 1031.3L320.15 1030.1L318.95 1028.9M335.75 1006.1L332.15 1007.3L329.75 1010.9L328.55 1016.9L328.55 1020.5L329.75 1026.5L332.15 1030.1L335.75 1031.3L338.15 1031.3L341.75 1030.1L344.15 1026.5L345.35 1020.5L345.35 1016.9L344.15 1010.9L341.75 1007.3L338.15 1006.1L335.75 1006.1M356.15 1010.9L358.55 1009.7L362.15 1006.1L362.15 1031.3M466.2 1006.1L462.6 1007.3L460.2 1010.9L459 1016.9L459 1020.5L460.2 1026.5L462.6 1030.1L466.2 1031.3L468.6 1031.3L472.2 1030.1L474.6 1026.5L475.8 1020.5L475.8 1016.9L474.6 1010.9L472.2 1007.3L468.6 1006.1L466.2 1006.1M485.4 1028.9L484.2 1030.1L485.4 1031.3L486.6 1030.1L485.4 1028.9M498.6 1010.9L501 1009.7L504.6 1006.1L504.6 1031.3M635.05 1010.9L637.45 1009.7L641.05 1006.1L641.05 1031.3M777.5 1010.9L779.9 1009.7L783.5 1006.1L783.5 1031.3M805.1 1006.1L801.5 1007.3L799.1 1010.9L797.9 1016.9L797.9 1020.5L799.1 1026.5L801.5 1030.1L805.1 1031.3L807.5 1031.3L811.1 1030.1L813.5 1026.5L814.7 1020.5L814.7 1016.9L813.5 1010.9L811.1 1007.3L807.5 1006.1L805.1 1006.1" fill="none" stroke="#000" stroke-width="1.35" stroke-linejoin="round" stroke-linecap="round"/>
<path d="M429.4 1091.2L429.4 1108M429.4 1098.4L430.6 1094.8L433 1092.4L435.4 1091.2L439 1091.2M453.4 1078L451 1080.4L448.6 1084L446.2 1088.8L445 1094.8L445 1099.6L446.2 1105.6L448.6 1110.4L451 1114L453.4 1116.4M461.8 1082.8L461.8 1108M461.8 1082.8L471.4 1108M481 1082.8L471.4 1108M481 1082.8L481 1108M490.6 1091.2L490.6 1116.4M490.6 1094.8L493 1092.4L495.4 1091.2L499 1091.2L501.4 1092.4L503.8 1094.8L505 1098.4L505 1100.8L503.8 1104.4L501.4 1106.8L499 1108L495.4 1108L493 1106.8L490.6 1104.4M526.6 1094.8L524.2 1092.4L521.8 1091.2L518.2 1091.2L515.8 1092.4L513.4 1094.8L512.2 1098.4L512.2 1100.8L513.4 1104.4L515.8 1106.8L518.2 1108L521.8 1108L524.2 1106.8L526.6 1104.4M533.8 1078L536.2 1080.4L538.6 1084L541 1088.8L542.2 1094.8L542.2 1099.6L541 1105.6L538.6 1110.4L536.2 1114L533.8 1116.4M32.39 503.31L30.2 503.51L28.16 504.11L26.39 505.07L25.04 506.33L24.2 507.78L23.9 509.34L24.2 510.92L25.04 512.37L26.39 513.63L28.16 514.59L30.2 515.19L32.39 515.4L34.6 515.19L36.65 514.59L38.41 513.63L39.76 512.38L40.6 510.92L40.9 509.36L40.6 507.78L39.76 506.33L38.41 505.07L36.65 504.11L34.6 503.51L32.41 503.31M27.5 515L49 521M10.65 487L13.05 489.4L16.65 491.8L21.45 494.2L27.45 495.4L32.25 495.4L38.25 494.2L43.05 491.8L46.65 489.4L49.05 487M15.45 478.6L40.65 478.6M15.45 478.6L40.65 469M15.45 459.4L40.65 469M15.45 459.4L40.65 459.4M41.91 447.52L42.87 449.44L44.79 451.36L47.67 452.32L49.59 452.32L52.47 451.36L54.39 449.44L55.35 447.52L55.35 444.64L54.39 442.72L52.47 440.8L49.59 439.84L47.67 439.84L44.79 440.8L42.87 442.72L41.91 444.64L41.91 447.52M10.65 413.98L49.05 435.58M23.85 406.78L49.05 406.78M27.45 406.78L25.05 404.38L23.85 401.98L23.85 398.38L25.05 395.98L27.45 393.58L31.05 392.38L33.45 392.38L37.05 393.58L39.45 395.98L40.65 398.38L40.65 401.98L39.45 404.38L37.05 406.78M27.45 370.78L25.05 373.18L23.85 375.58L23.85 379.18L25.05 381.58L27.45 383.98L31.05 385.18L33.45 385.18L37.05 383.98L39.45 381.58L40.65 379.18L40.65 375.58L39.45 373.18L37.05 370.78M3.16 362.75L3.16 353.02L10.24 358.33L10.24 355.68L11.13 353.91L12.02 353.02L14.67 352.13L16.44 352.13L19.09 353.02L20.86 354.79L21.75 357.44L21.75 360.1L20.86 362.75L19.98 363.64L18.21 364.53M10.65 345.88L13.05 343.48L16.65 341.08L21.45 338.68L27.45 337.48L32.25 337.48L38.25 338.68L43.05 341.08L46.65 343.48L49.05 345.88" fill="none" stroke="#000" stroke-width="1.8" stroke-linejoin="round" stroke-linecap="round"/>
<path d="M226.67 69.62L224.25 67.2L220.62 65.99L215.78 65.99L212.15 67.2L209.73 69.62L209.73 72.04L210.94 74.46L212.15 75.67L214.57 76.88L221.83 79.3L224.25 80.51L225.46 81.72L226.67 84.14L226.67 87.77L224.25 90.19L220.62 91.4L215.78 91.4L212.15 90.19L209.73 87.77M237.56 70.83L239.98 69.62L243.61 65.99L243.61 91.4M226.67 145.62L224.25 143.2L220.62 141.99L215.78 141.99L212.15 143.2L209.73 145.62L209.73 148.04L210.94 150.46L212.15 151.67L214.57 152.88L221.83 155.3L224.25 156.51L225.46 157.72L226.67 160.14L226.67 163.77L224.25 166.19L220.62 167.4L215.78 167.4L212.15 166.19L209.73 163.77M235.14 148.04L235.14 146.83L236.35 144.41L237.56 143.2L239.98 141.99L244.82 141.99L247.24 143.2L248.45 144.41L249.66 146.83L249.66 149.25L248.45 151.67L246.03 155.3L233.93 167.4L250.87 167.4M226.67 229.22L224.25 226.8L220.62 225.59L215.78 225.59L212.15 226.8L209.73 229.22L209.73 231.64L210.94 234.06L212.15 235.27L214.57 236.48L221.83 238.9L224.25 240.11L225.46 241.32L226.67 243.74L226.67 247.37L224.25 249.79L220.62 251L215.78 251L212.15 249.79L209.73 247.37M236.35 225.59L249.66 225.59L242.4 235.27L246.03 235.27L248.45 236.48L249.66 237.69L250.87 241.32L250.87 243.74L249.66 247.37L247.24 249.79L243.61 251L239.98 251L236.35 249.79L235.14 248.58L233.93 246.16M226.67 298.77L224.25 296.35L220.62 295.14L215.78 295.14L212.15 296.35L209.73 298.77L209.73 301.19L210.94 303.61L212.15 304.82L214.57 306.03L221.83 308.45L224.25 309.66L225.46 310.87L226.67 313.29L226.67 316.92L224.25 319.34L220.62 320.55L215.78 320.55L212.15 319.34L209.73 316.92M246.03 295.14L233.93 312.08L252.08 312.08M246.03 295.14L246.03 320.55M214.74 349.69L214.74 375.1M214.74 375.1L229.26 375.1M237.73 354.53L240.15 353.32L243.78 349.69L243.78 375.1M214.74 426.09L214.74 451.5M214.74 451.5L229.26 451.5M235.31 432.14L235.31 430.93L236.52 428.51L237.73 427.3L240.15 426.09L244.99 426.09L247.41 427.3L248.62 428.51L249.83 430.93L249.83 433.35L248.62 435.77L246.2 439.4L234.1 451.5L251.04 451.5M214.74 487.69L214.74 513.1M214.74 513.1L229.26 513.1M236.52 487.69L249.83 487.69L242.57 497.37L246.2 497.37L248.62 498.58L249.83 499.79L251.04 503.42L251.04 505.84L249.83 509.47L247.41 511.89L243.78 513.1L240.15 513.1L236.52 511.89L235.31 510.68L234.1 508.26M214.74 564.79L214.74 590.2M214.74 590.2L229.26 590.2M246.2 564.79L234.1 581.73L252.25 581.73M246.2 564.79L246.2 590.2" fill="none" stroke="#0000ff" stroke-width="1.4" stroke-linejoin="round" stroke-linecap="round"/>
</svg></body></html>
